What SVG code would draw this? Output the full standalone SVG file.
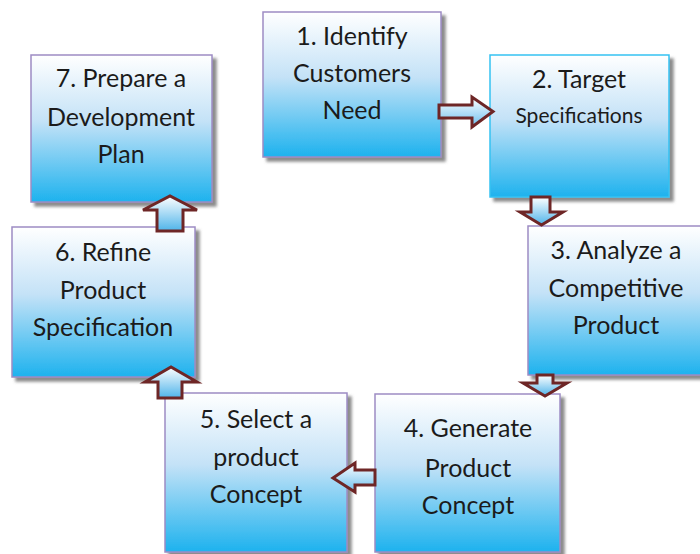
<svg xmlns="http://www.w3.org/2000/svg" width="700" height="554" viewBox="0 0 700 554">
  <defs>
    <linearGradient id="boxFill" x1="0" y1="0" x2="0" y2="1">
      <stop offset="0" stop-color="#ffffff"/>
      <stop offset="0.45" stop-color="#c4e2f7"/>
      <stop offset="1" stop-color="#1db2ee"/>
    </linearGradient>
    <linearGradient id="arrowV" x1="0" y1="0" x2="0" y2="1">
      <stop offset="0" stop-color="#ffffff"/>
      <stop offset="1" stop-color="#4fb4ea"/>
    </linearGradient>
    <linearGradient id="arrowH" x1="0" y1="0" x2="0" y2="1">
      <stop offset="0" stop-color="#ffffff"/>
      <stop offset="1" stop-color="#6cbfee"/>
    </linearGradient>
    <filter id="shadow" x="-10%" y="-10%" width="125%" height="125%">
      <feDropShadow dx="4" dy="4" stdDeviation="1.5" flood-color="#666" flood-opacity="0.75"/>
    </filter>
  </defs>
  <style>
    .box { fill: url(#boxFill); stroke: #9d8cc4; stroke-width: 1.5; filter: url(#shadow); }
    .box.cyan { stroke: #35c2f2; }
    .lbl { font-family: Lato, "Liberation Sans", sans-serif; font-size: 25px; fill: #1b1b1b; text-anchor: middle; }
    .small { font-size: 21px; }
    .arrow { stroke: #6e2626; stroke-width: 3; stroke-linejoin: miter; }
  </style>

  <rect width="700" height="554" fill="#ffffff"/>

  <g id="step1">
    <rect class="box" x="263" y="12" width="178" height="145"/>
    <text class="lbl" x="352" y="45">1. Identify</text>
    <text class="lbl" x="352" y="82">Customers</text>
    <text class="lbl" x="352" y="119">Need</text>
  </g>

  <g id="step2">
    <rect class="box cyan" x="490" y="55" width="179" height="142"/>
    <text class="lbl" x="579" y="88">2. Target</text>
    <text class="lbl small" x="579" y="123">Specifications</text>
  </g>

  <g id="step3">
    <rect class="box" x="528" y="226" width="174" height="149"/>
    <text class="lbl" x="616" y="259">3. Analyze a</text>
    <text class="lbl" x="616" y="297">Competitive</text>
    <text class="lbl" x="616" y="334">Product</text>
  </g>

  <g id="step4">
    <rect class="box" x="375" y="394" width="185" height="158"/>
    <text class="lbl" x="468" y="437">4. Generate</text>
    <text class="lbl" x="468" y="477">Product</text>
    <text class="lbl" x="468" y="514">Concept</text>
  </g>

  <g id="step5">
    <rect class="box" x="165" y="393" width="182" height="159"/>
    <text class="lbl" x="256" y="428">5. Select a</text>
    <text class="lbl" x="256" y="466">product</text>
    <text class="lbl" x="256" y="503">Concept</text>
  </g>

  <g id="step6">
    <rect class="box" x="12" y="227" width="183" height="150"/>
    <text class="lbl" x="103" y="261">6. Refine</text>
    <text class="lbl" x="103" y="299">Product</text>
    <text class="lbl" x="103" y="336">Specification</text>
  </g>

  <g id="step7">
    <rect class="box" x="31" y="55" width="181" height="147"/>
    <text class="lbl" x="121" y="87">7. Prepare a</text>
    <text class="lbl" x="121" y="126">Development</text>
    <text class="lbl" x="121" y="163">Plan</text>
  </g>

  <g id="connectors">
    <!-- 1 to 2: right -->
    <path class="arrow" fill="url(#arrowH)" d="M439,105 H472 V97 L493,111.5 L472,127 V118 H439 Z"/>
    <!-- 2 to 3: down -->
    <path class="arrow" fill="url(#arrowV)" d="M531,197 H550 V212 H563 L541.5,225 L520,212 H531 Z"/>
    <!-- 3 to 4: down -->
    <path class="arrow" fill="url(#arrowV)" d="M537,375 H553 V383 H567 L545,396 L523,383 H537 Z"/>
    <!-- 4 to 5: left -->
    <path class="arrow" fill="url(#arrowH)" d="M375,470 H355 V463 L333,478 L355,492 V485 H375 Z"/>
    <!-- 5 to 6: up -->
    <path class="arrow" fill="url(#arrowV)" d="M158,398 V382 H145 L171,367 L197,382 H182 V398 Z"/>
    <!-- 6 to 7: up -->
    <path class="arrow" fill="url(#arrowV)" d="M157,231 V210 H143 L170,196 L197,210 H183 V231 Z"/>
  </g>
</svg>
